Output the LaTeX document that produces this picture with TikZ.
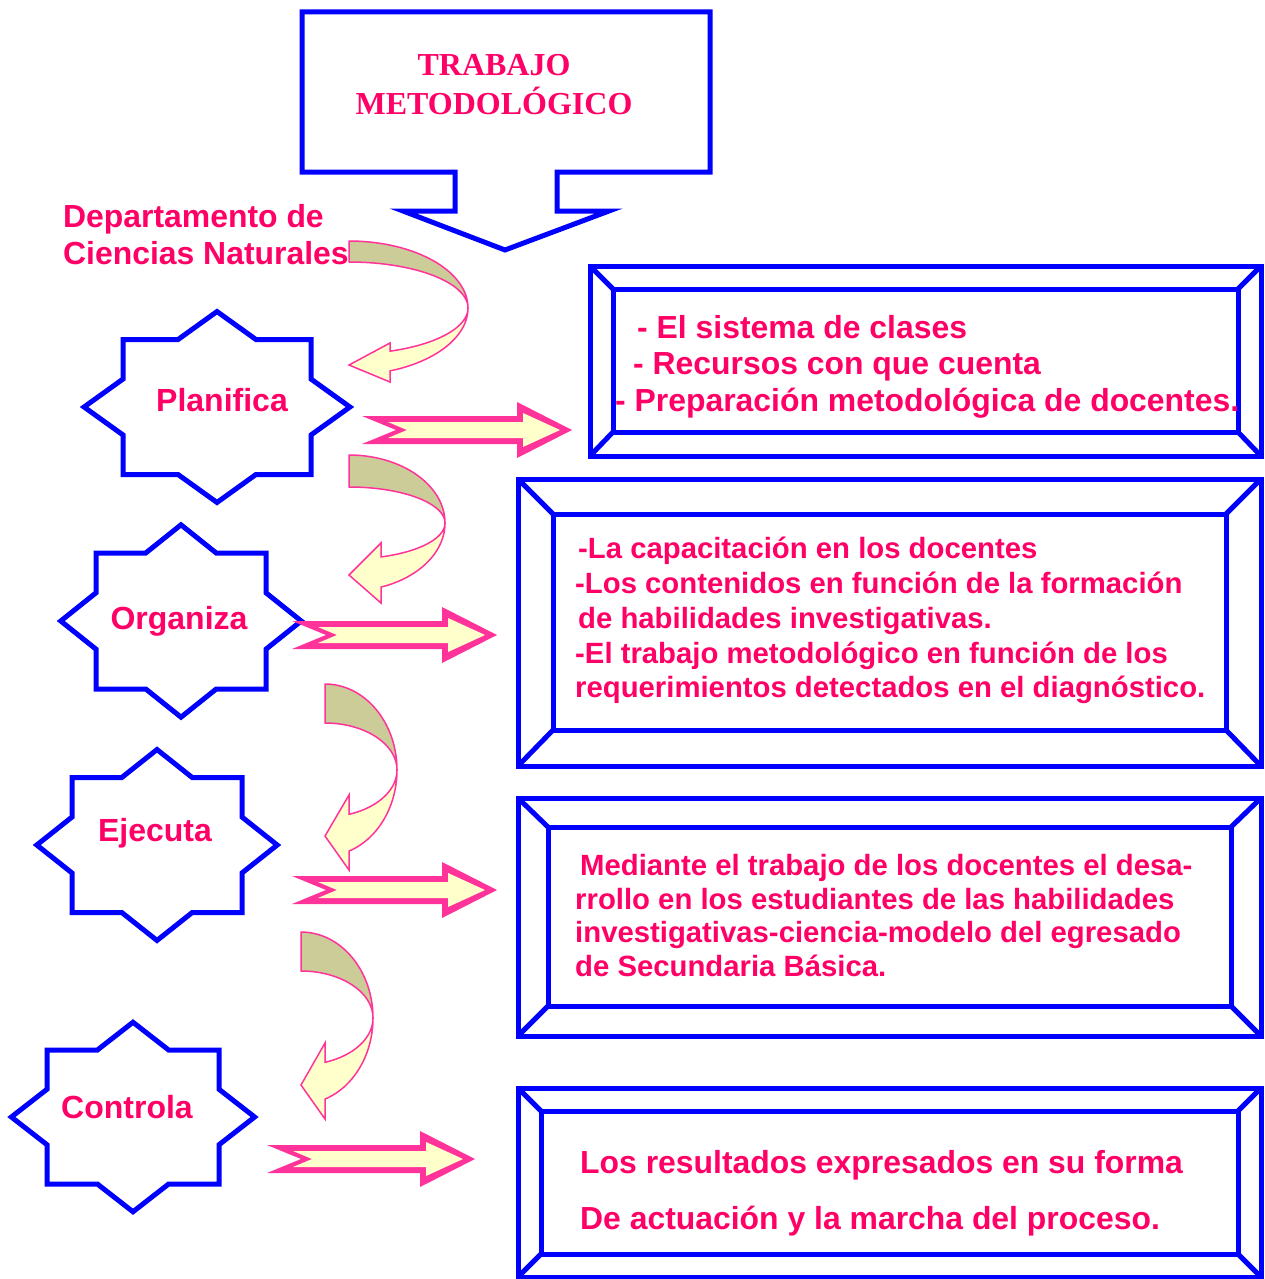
\documentclass[tikz,border=0pt]{standalone}
\usepackage{fontspec}
\setmainfont{Liberation Sans}
\newfontfamily\titlefont{Liberation Serif}
\definecolor{txt}{RGB}{255,0,102}
\definecolor{bl}{RGB}{0,0,255}
\definecolor{pk}{RGB}{255,51,153}
\definecolor{yl}{RGB}{255,255,204}
\definecolor{ol}{RGB}{204,204,153}
\tikzset{
  blueline/.style={draw=bl, line width=5pt},
  starlbl/.style={text=txt, font=\bfseries\fontsize{32}{38}\selectfont, inner sep=0pt, anchor=base},
  bigtxt/.style={text=txt, font=\bfseries\fontsize{31.9}{37}\selectfont, inner sep=0pt, anchor=base west},
  smalltxt/.style={text=txt, font=\bfseries\fontsize{29.3}{34}\selectfont, inner sep=0pt, anchor=base west},
  titletxt/.style={text=txt, font=\titlefont\bfseries\fontsize{32}{37}\selectfont, inner sep=0pt, anchor=base},
  backband/.style={fill=ol, draw=pk, line width=1.5pt, line join=round},
  frontband/.style={fill=yl, draw=pk, line width=1.5pt, line join=miter},
}
% 8-pointed star: centre (#1,#2), half sizes #3, #4
\newcommand\octstar[4]{%
  \draw[blueline, fill=white] ({#1},{#2-1.4142*#4}) -- ({#1+0.4142*#3},{#2-#4}) -- ({#1+#3},{#2-#4})
   -- ({#1+#3},{#2-0.4142*#4}) -- ({#1+1.4142*#3},{#2}) -- ({#1+#3},{#2+0.4142*#4})
   -- ({#1+#3},{#2+#4}) -- ({#1+0.4142*#3},{#2+#4}) -- ({#1},{#2+1.4142*#4})
   -- ({#1-0.4142*#3},{#2+#4}) -- ({#1-#3},{#2+#4}) -- ({#1-#3},{#2+0.4142*#4})
   -- ({#1-1.4142*#3},{#2}) -- ({#1-#3},{#2-0.4142*#4}) -- ({#1-#3},{#2-#4})
   -- ({#1-0.4142*#3},{#2-#4}) -- cycle;}
% bevel frame: outer (#1,#2)-(#3,#4), inner (#5,#6)-(#7,#8)
\newcommand\bevelbox[8]{%
  \draw[blueline] (#1,#2) rectangle (#3,#4);
  \draw[blueline] (#5,#6) rectangle (#7,#8);
  \draw[blueline] (#1,#2) -- (#5,#6) (#3,#2) -- (#7,#6) (#1,#4) -- (#5,#8) (#3,#4) -- (#7,#8);}
% notched block arrow: tail x #1, centre y #2, length #3
\newcommand\blockarr[3]{%
  \fill[pk] ({#1},{#2-14}) -- ({#1+#3-55},{#2-14}) -- ({#1+#3-55},{#2-28}) -- ({#1+#3},{#2})
    -- ({#1+#3-55},{#2+28}) -- ({#1+#3-55},{#2+14}) -- ({#1},{#2+14}) -- ({#1+34},{#2}) -- cycle;
  \fill[yl] ({#1+26},{#2-8}) -- ({#1+#3-49},{#2-8}) -- ({#1+#3-49},{#2-17}) -- ({#1+#3-12},{#2})
    -- ({#1+#3-49},{#2+17}) -- ({#1+#3-49},{#2+8}) -- ({#1+26},{#2+8}) -- ({#1+45},{#2}) -- cycle;}
% curved arrow: centre (#1,#2), rx #3, outer ry #4, inner ry #5, head base x #6, barbs #7 #8, tip y #9
\newcommand\curvarr[9]{%
  \pgfmathsetmacro\cvang{acos((#6-#1)/#3)}%
  \filldraw[backband] plot[domain=-90:0, samples=40] ({#1+#3*cos(\x)},{#2+#4*sin(\x)})
    -- plot[domain=0:-90, samples=40] ({#1+#3*cos(\x)},{#2+#5*sin(\x)}) -- cycle;
  \filldraw[frontband] plot[domain=0:\cvang, samples=40] ({#1+#3*cos(\x)},{#2+#4*sin(\x)})
    -- ({#6},{#8}) -- ({#1},{#9}) -- ({#6},{#7})
    -- plot[domain=\cvang:0, samples=40] ({#1+#3*cos(\x)},{#2+#5*sin(\x)}) -- cycle;}
\begin{document}
\begin{tikzpicture}[x=1pt, y=-1pt]
\useasboundingbox (0,0) rectangle (1264,1279);
\fill[white] (0,0) rectangle (1264,1279);

% title callout
\draw[blueline, line join=miter] (302,12) -- (710,12) -- (710,172) -- (557,172) -- (557,211)
  -- (609,211) -- (505,250) -- (403,211) -- (455,211) -- (455,172) -- (302,172) -- cycle;
\node[titletxt] (t1) at (494,76) {TRABAJO};
\node[titletxt] (t2) at (494,114) {METODOLÓGICO};

% department
\node[bigtxt] (d1) at (63,227) {Departamento de};
\node[bigtxt] (d2) at (63,264) {Ciencias Naturales};

% stars
\octstar{217}{407}{94}{67.5}
\octstar{181}{621}{85}{68}
\octstar{157}{845}{85}{67.5}
\octstar{133}{1117}{86}{67}
\node[starlbl] (plan) at (222,411) {Planifica};
\node[starlbl] (org) at (179,629) {Organiza};
\node[starlbl] (eje) at (155,841) {Ejecuta};
\node[starlbl] (con) at (127,1118) {Controla};

% curved arrows
\curvarr{349}{308}{119}{67}{46}{390}{343}{382}{365}
\curvarr{349}{523}{96}{68}{36}{381}{543}{603}{575}
\curvarr{325}{770}{72}{86}{47}{349}{795}{870}{836}
\curvarr{301}{1018}{72}{86}{47}{325}{1043}{1119}{1085}

% block arrows
\blockarr{362}{430}{210}
\blockarr{292}{635}{205}
\blockarr{292}{890}{205}
\blockarr{267}{1159}{208}

% frames
\bevelbox{590}{266}{1261}{456}{613}{289}{1238}{432}
\bevelbox{518}{479}{1261}{766}{553}{514}{1226}{730}
\bevelbox{518}{798}{1261}{1036}{548}{827}{1231}{1006}
\bevelbox{518}{1088}{1261}{1277}{541}{1111}{1238}{1254}

% frame texts
\node[bigtxt] (a1) at (637,338) {- El sistema de clases};
\node[bigtxt] (a2) at (633,374) {- Recursos con que cuenta};
\node[bigtxt] (a3) at (615,411) {- Preparación metodológica de docentes.};

\node[smalltxt] (b1) at (578,558) {-La capacitación en los docentes};
\node[smalltxt] (b2) at (575,593) {-Los contenidos en función de la formación};
\node[smalltxt] (b3) at (578,628) {de habilidades investigativas.};
\node[smalltxt] (b4) at (575,663) {-El trabajo metodológico en función de los};
\node[smalltxt] (b5) at (575,697) {requerimientos detectados en el diagnóstico.};

\node[smalltxt] (c1) at (580,875) {Mediante el trabajo de los docentes el desa-};
\node[smalltxt] (c2) at (575,909) {rrollo en los estudiantes de las habilidades};
\node[smalltxt] (c3) at (575,942) {investigativas-ciencia-modelo del egresado};
\node[smalltxt] (c4) at (575,976) {de Secundaria Básica.};

\node[bigtxt] (e1) at (580,1173) {Los resultados expresados en su forma};
\node[bigtxt] (e2) at (580,1229) {De actuación y la marcha del proceso.};
\end{tikzpicture}
\end{document}
